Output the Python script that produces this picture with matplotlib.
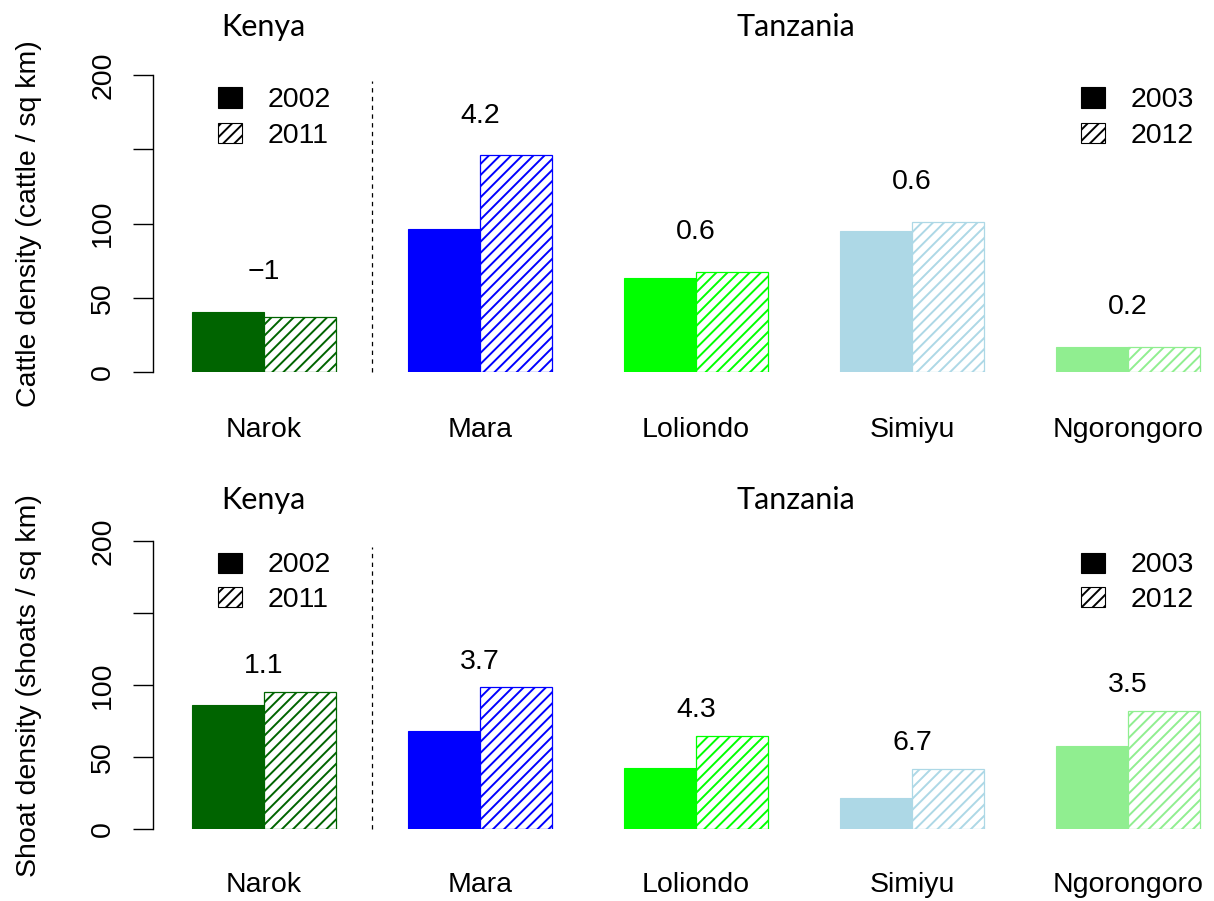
import matplotlib
matplotlib.use("Agg")
import matplotlib.pyplot as plt
from matplotlib.patches import Rectangle

# ---- data ----
regions = ["Narok", "Mara", "Loliondo", "Simiyu", "Ngorongoro"]
colors = ["#006400", "#0000FF", "#00FF00", "#ADD8E6", "#90EE90"]

cattle_first = [40.4, 96.5, 63.3, 95.0, 16.8]
cattle_second = [37.0, 146.0, 67.3, 101.0, 16.8]
cattle_labels = ["\u22121", "4.2", "0.6", "0.6", "0.2"]

shoat_first = [86.1, 68.3, 42.4, 21.5, 57.6]
shoat_second = [95.3, 98.3, 64.6, 41.7, 82.0]
shoat_labels = ["1.1", "3.7", "4.3", "6.7", "3.5"]

kenya_years = ["2002", "2011"]
tanz_years = ["2003", "2012"]
yticks = [0, 50, 100, 150, 200]
ytick_labels = ["0", "50", "100", "", "200"]
ylabels = ["Cattle density (cattle / sq km)", "Shoat density (shoats / sq km)"]
countries = ["Kenya", "Tanzania"]

# ---- figure ----
W, H = 1214, 901
fig = plt.figure(figsize=(W / 100, H / 100), dpi=100)
FONT = "Liberation Sans"
FS = 20.5
plt.rcParams["hatch.linewidth"] = 1.4

group_step = 3.0
centers = [i * group_step for i in range(len(regions))]
px_per_unit = 72.0
xl = (153 - 264) / px_per_unit
xr = (W - 264) / px_per_unit


def panel(top_px, zero_px, first, second, labels, lab_off, ylab, ylab_px,
          title_px):
    ax = fig.add_axes([153 / W, (H - zero_px) / H, (W - 153) / W,
                       (zero_px - top_px) / H])
    ax.set_xlim(xl, xr)
    ax.set_ylim(0, 200)
    for c, col, v1, v2, lab, name in zip(centers, colors, first, second,
                                         labels, regions):
        ax.bar(c - 0.5, v1, width=1.0, color=col, edgecolor=col,
               linewidth=0.8)
        ax.bar(c + 0.5, v2, width=1.0, facecolor="white", edgecolor=col,
               hatch="///", linewidth=0.9)
        ax.text(c, max(v1, v2) + lab_off, lab, ha="center", va="baseline",
                fontsize=FS, family=FONT, clip_on=False)
        ax.text(c, -43.7, name, ha="center", va="baseline",
                fontsize=FS, family=FONT, clip_on=False)
    ax.plot([1.5, 1.5], [0, 196], ls=(0, (3.5, 3.5)), color="black",
            lw=0.9, clip_on=False)
    # legends
    for (sx, tx, yrs) in [(-0.47, 0.056, kenya_years),
                          (11.51, 12.03, tanz_years)]:
        for k, (yc, yr) in enumerate(zip([185, 161], yrs)):
            r = Rectangle((sx - 0.165, yc - 7), 0.33, 14,
                          facecolor="black" if k == 0 else "white",
                          edgecolor="black", hatch=None if k == 0 else "///",
                          linewidth=0.8, clip_on=False)
            ax.add_patch(r)
            ax.text(tx, yc - 6.5, yr, ha="left", va="baseline",
                    fontsize=FS, family=FONT, clip_on=False)
    # axes styling
    for s in ["top", "right", "bottom"]:
        ax.spines[s].set_visible(False)
    ax.spines["left"].set_bounds(0, 200)
    ax.spines["left"].set_linewidth(1.0)
    ax.set_xticks([])
    ax.set_yticks(yticks)
    ax.set_yticklabels(ytick_labels, rotation=90, va="center",
                       fontsize=FS, family=FONT)
    ax.tick_params(axis="y", length=14.4, width=1.0, pad=12)
    ax.patch.set_alpha(0)
    fig.text(29 / W, 1 - ylab_px / H, ylab,
             rotation=90, ha="center", va="center", fontsize=FS, family=FONT)
    fig.text(263 / W, 1 - title_px / H, countries[0], ha="center",
             va="center", fontsize=22, family="Lato")
    fig.text(796 / W, 1 - title_px / H, countries[1], ha="center",
             va="center", fontsize=22, family="Lato")
    return ax


panel(75, 372, cattle_first, cattle_second, cattle_labels, 22, ylabels[0],
      224, 27)
panel(541, 829, shoat_first, shoat_second, shoat_labels, 13, ylabels[1],
      686, 500)

fig.savefig("out.png", dpi=100)
